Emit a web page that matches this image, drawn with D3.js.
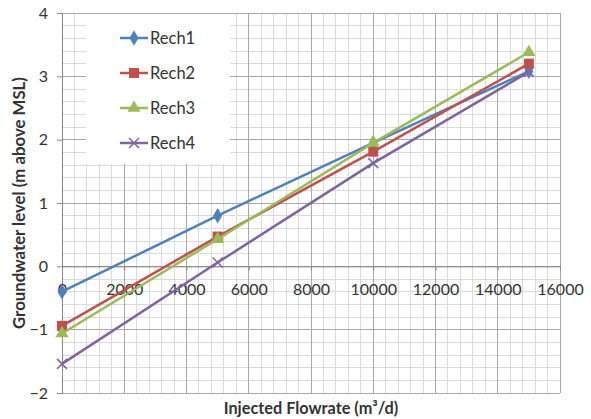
<!DOCTYPE html>
<html><head><meta charset="utf-8">
<script src="https://cdn.jsdelivr.net/npm/d3@7"></script>
<style>body{margin:0;background:#fff}svg{display:block}</style>
</head><body><svg id="c" width="591" height="419"></svg>
<script>
const flow = [0, 5000, 10000, 15000];
const rech1 = [-0.40, 0.80, 1.95, 3.08];
const rech2 = [-0.94, 0.47, 1.81, 3.20];
const rech3 = [-1.06, 0.43, 1.95, 3.38];
const rech4 = [-1.54, 0.06, 1.63, 3.07];
const seriesNames = ["Rech1", "Rech2", "Rech3", "Rech4"];
const colors = ["#4F81BD", "#C0504D", "#9BBB59", "#8064A2"];
const xTicks = [0, 2000, 4000, 6000, 8000, 10000, 12000, 14000, 16000];
const yTicks = [-2, -1, 0, 1, 2, 3, 4];

const svg = d3.select("#c");
const font = "Lato, 'Open Sans', sans-serif";
const x = d3.scaleLinear().domain([0, 16000]).range([62, 560]);
const y = d3.scaleLinear().domain([-2, 4]).range([393, 13]);

// minor grid
const g = svg.append("g");
g.selectAll(".mx").data(d3.range(0, 16001, 400)).join("line")
  .attr("x1", d => x(d)).attr("x2", d => x(d)).attr("y1", y(-2)).attr("y2", y(4))
  .attr("stroke", "#dadada").attr("stroke-width", 1).attr("shape-rendering", "crispEdges");
g.selectAll(".my").data(d3.range(-2, 4.001, 0.2)).join("line")
  .attr("y1", d => y(d)).attr("y2", d => y(d)).attr("x1", x(0)).attr("x2", x(16000))
  .attr("stroke", "#dadada").attr("stroke-width", 1).attr("shape-rendering", "crispEdges");
// major grid
g.selectAll(".Mx").data(xTicks).join("line")
  .attr("x1", d => x(d)).attr("x2", d => x(d)).attr("y1", y(-2)).attr("y2", y(4))
  .attr("stroke", "#a8a8a8").attr("stroke-width", 1).attr("shape-rendering", "crispEdges");
g.selectAll(".My").data(yTicks).join("line")
  .attr("y1", d => y(d)).attr("y2", d => y(d)).attr("x1", x(0)).attr("x2", x(16000))
  .attr("stroke", "#a8a8a8").attr("stroke-width", 1).attr("shape-rendering", "crispEdges");

// y axis
const yAxis = d3.axisLeft(y).tickValues(yTicks).tickSize(5).tickPadding(9).tickFormat(d3.format("d"));
const ya = svg.append("g").attr("transform", `translate(${x(0)},0)`).call(yAxis);
ya.select(".domain").attr("stroke", "#888");
ya.selectAll(".tick line").attr("stroke", "#888");
ya.selectAll("text").attr("font-family", font).attr("font-size", 16).attr("fill", "#333");

// x axis crossing at y = 0
const xAxis = d3.axisBottom(x).tickValues(xTicks).tickSize(4).tickPadding(13).tickFormat(d3.format("d"));
const xa = svg.append("g").attr("transform", `translate(0,${y(0)})`).call(xAxis);
xa.select(".domain").attr("stroke", "#888");
xa.selectAll(".tick line").attr("stroke", "#888");
xa.selectAll("text").attr("font-family", font).attr("font-size", 16).attr("fill", "#333");

// legend background
const lg = svg.append("g");
lg.append("rect").attr("x", 86).attr("y", 14).attr("width", 144).attr("height", 150).attr("fill", "#fff");

// series
const all = [rech1, rech2, rech3, rech4];
const line = d3.line().x((d, i) => x(flow[i])).y(d => y(d));
function marker(sel, k, cx, cy) {
  const c = colors[k];
  if (k === 0) sel.append("path").attr("d", d3.symbol(d3.symbolDiamond, 70)()).attr("transform", `translate(${cx},${cy})`).attr("fill", c);
  else if (k === 1) sel.append("rect").attr("x", cx - 5).attr("y", cy - 5).attr("width", 10).attr("height", 10).attr("fill", c);
  else if (k === 2) sel.append("path").attr("d", d3.symbol(d3.symbolTriangle, 75)()).attr("transform", `translate(${cx},${cy})`).attr("fill", c);
  else sel.append("path").attr("d", `M${cx-5},${cy-5}L${cx+5},${cy+5}M${cx-5},${cy+5}L${cx+5},${cy-5}`).attr("stroke", c).attr("stroke-width", 1.5).attr("fill", "none");
}
all.forEach((vals, k) => {
  const s = svg.append("g");
  s.append("path").datum(vals).attr("d", line).attr("fill", "none").attr("stroke", colors[k]).attr("stroke-width", 2.5);
  vals.forEach((v, i) => marker(s, k, x(flow[i]), y(v)));
});

// legend entries
seriesNames.forEach((n, k) => {
  const cy = 38 + k * 35;
  lg.append("line").attr("x1", 120).attr("x2", 148).attr("y1", cy).attr("y2", cy).attr("stroke", colors[k]).attr("stroke-width", 2.5);
  marker(lg, k, 134, cy);
  lg.append("text").attr("x", 150).attr("y", cy).attr("dy", "0.36em").attr("font-family", font).attr("font-size", 16.5).attr("fill", "#333").text(n);
});

// axis titles
svg.append("text").attr("x", 311).attr("y", 414).attr("text-anchor", "middle")
  .attr("font-family", font).attr("font-size", 16.3).attr("font-weight", "bold").attr("fill", "#333")
  .text("Injected Flowrate (m³/d)");
svg.append("text").attr("transform", "translate(25,203) rotate(-90)").attr("text-anchor", "middle")
  .attr("font-family", font).attr("font-size", 16.8).attr("font-weight", "bold").attr("fill", "#333")
  .text("Groundwater level (m above MSL)");
</script></body></html>
